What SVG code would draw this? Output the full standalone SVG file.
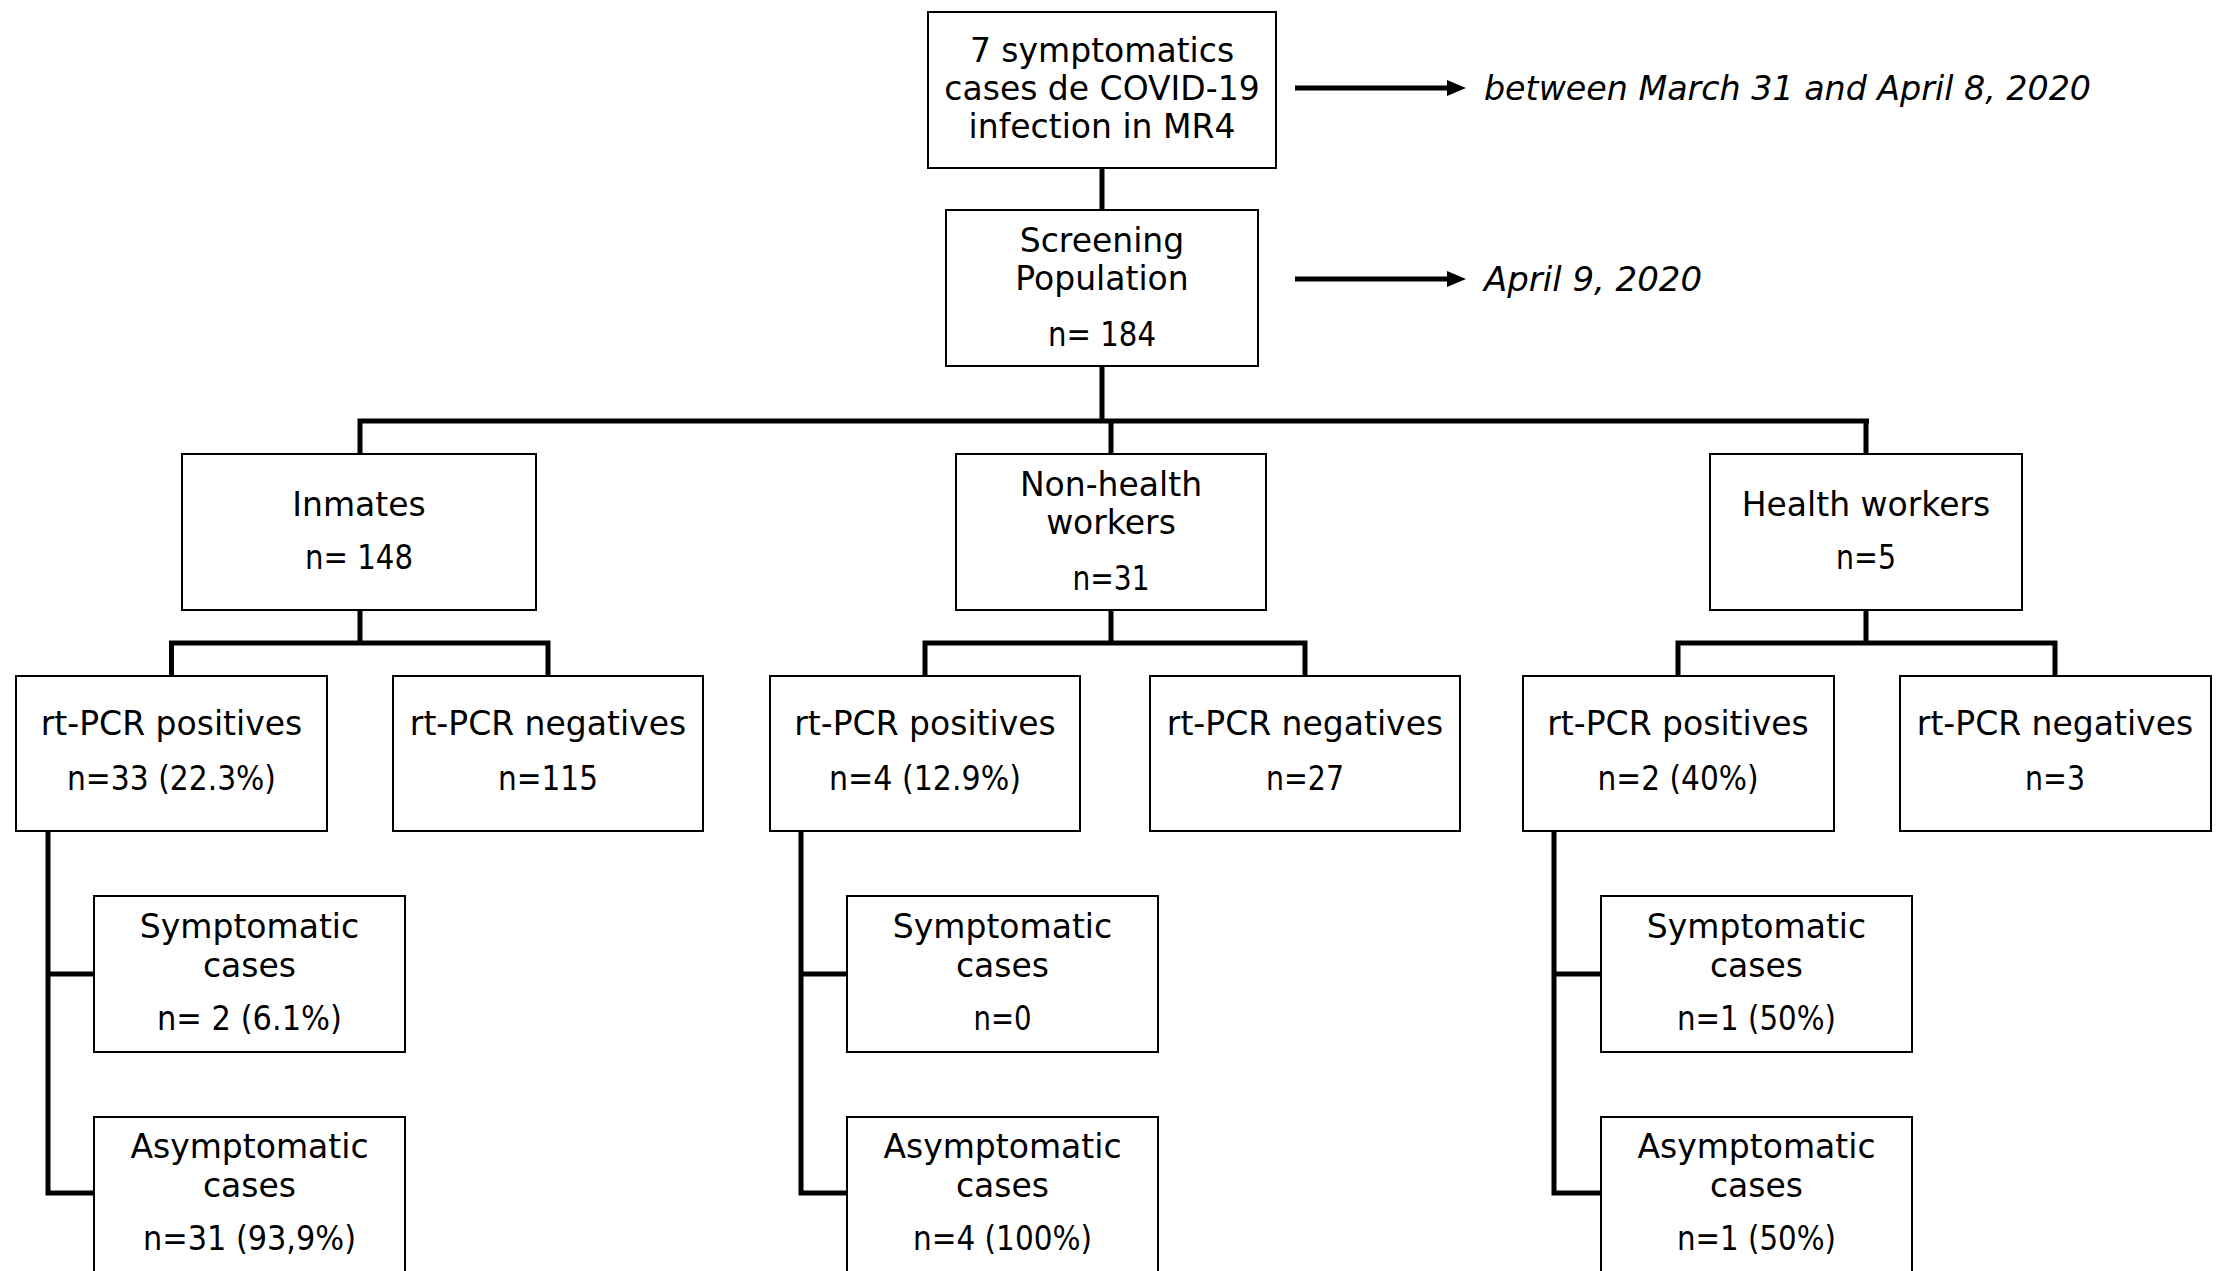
<svg xmlns="http://www.w3.org/2000/svg" width="2231" height="1271" viewBox="0 0 2231 1271">
<style>
.box{fill:#fff;stroke:#000;stroke-width:2}
.t{font-family:"DejaVu Sans",sans-serif;font-size:33px;fill:#000;text-anchor:middle}
.i{font-family:"DejaVu Sans",sans-serif;font-size:33px;font-style:italic;fill:#000}
.c{fill:none;stroke:#000;stroke-width:5}
</style>
<rect width="2231" height="1271" fill="#fff"/>
<g id="connectors">
<path class="c" d="M1102,168 V210"/>
<path class="c" d="M1102,366 V421"/>
<path class="c" d="M357.5,421 H1869 M360,421 V454 M1111,421 V454 M1866,421 V454"/>
<path class="c" d="M360,610 V643 M169,643 H550.5 M171.5,643 V676 M548,643 V676"/>
<path class="c" d="M1111,610 V643 M922.5,643 H1307.5 M925,643 V676 M1305,643 V676"/>
<path class="c" d="M1866,610 V643 M1675.5,643 H2057.5 M1678,643 V676 M2055,643 V676"/>
<path class="c" d="M48,831 V1195.5 M48,974 H94 M48,1193 H94"/>
<path class="c" d="M801,831 V1195.5 M801,974 H847 M801,1193 H847"/>
<path class="c" d="M1554,831 V1195.5 M1554,974 H1601 M1554,1193 H1601"/>
<path class="c" d="M1295,88 H1449"/>
<path d="M1447,80 L1466,88 L1447,96 Z" fill="#000"/>
<path class="c" d="M1295,279 H1449"/>
<path d="M1447,271 L1466,279 L1447,287 Z" fill="#000"/>
</g>
<g id="n-cases">
<rect class="box" x="928" y="12" width="348" height="156"/>
<text class="t" x="1102" y="62">7 symptomatics</text>
<text class="t" x="1102" y="100">cases de COVID-19</text>
<text class="t" x="1102" y="138">infection in MR4</text>
</g>
<g id="n-dates1">
<text class="i" x="1484" y="100" textLength="607" lengthAdjust="spacingAndGlyphs">between March 31 and April 8, 2020</text>
</g>
<g id="n-screening">
<rect class="box" x="946" y="210" width="312" height="156"/>
<text class="t" x="1102" y="252">Screening</text>
<text class="t" x="1102" y="290">Population</text>
<text class="t" x="1102" y="346" textLength="108" lengthAdjust="spacingAndGlyphs">n= 184</text>
</g>
<g id="n-dates2">
<text class="i" x="1484" y="291" textLength="218" lengthAdjust="spacingAndGlyphs">April 9, 2020</text>
</g>
<g id="n-inmates">
<rect class="box" x="182" y="454" width="354" height="156"/>
<text class="t" x="359" y="516">Inmates</text>
<text class="t" x="359" y="569" textLength="108" lengthAdjust="spacingAndGlyphs">n= 148</text>
</g>
<g id="n-nonhealth">
<rect class="box" x="956" y="454" width="310" height="156"/>
<text class="t" x="1111" y="496">Non-health</text>
<text class="t" x="1111" y="534">workers</text>
<text class="t" x="1111" y="590" textLength="77" lengthAdjust="spacingAndGlyphs">n=31</text>
</g>
<g id="n-health">
<rect class="box" x="1710" y="454" width="312" height="156"/>
<text class="t" x="1866" y="516">Health workers</text>
<text class="t" x="1866" y="569" textLength="60" lengthAdjust="spacingAndGlyphs">n=5</text>
</g>
<g id="n-inm-pos">
<rect class="box" x="16" y="676" width="311" height="155"/>
<text class="t" x="171.5" y="735">rt-PCR positives</text>
<text class="t" x="171.5" y="790" textLength="209" lengthAdjust="spacingAndGlyphs">n=33 (22.3%)</text>
</g>
<g id="n-inm-neg">
<rect class="box" x="393" y="676" width="310" height="155"/>
<text class="t" x="548" y="735">rt-PCR negatives</text>
<text class="t" x="548" y="790" textLength="100" lengthAdjust="spacingAndGlyphs">n=115</text>
</g>
<g id="n-nh-pos">
<rect class="box" x="770" y="676" width="310" height="155"/>
<text class="t" x="925" y="735">rt-PCR positives</text>
<text class="t" x="925" y="790" textLength="192" lengthAdjust="spacingAndGlyphs">n=4 (12.9%)</text>
</g>
<g id="n-nh-neg">
<rect class="box" x="1150" y="676" width="310" height="155"/>
<text class="t" x="1305" y="735">rt-PCR negatives</text>
<text class="t" x="1305" y="790" textLength="78" lengthAdjust="spacingAndGlyphs">n=27</text>
</g>
<g id="n-h-pos">
<rect class="box" x="1523" y="676" width="311" height="155"/>
<text class="t" x="1678" y="735">rt-PCR positives</text>
<text class="t" x="1678" y="790" textLength="161" lengthAdjust="spacingAndGlyphs">n=2 (40%)</text>
</g>
<g id="n-h-neg">
<rect class="box" x="1900" y="676" width="311" height="155"/>
<text class="t" x="2055" y="735">rt-PCR negatives</text>
<text class="t" x="2055" y="790" textLength="60" lengthAdjust="spacingAndGlyphs">n=3</text>
</g>
<g id="n-inm-sym">
<rect class="box" x="94" y="896" width="311" height="156"/>
<text class="t" x="249.5" y="938">Symptomatic</text>
<text class="t" x="249.5" y="977">cases</text>
<text class="t" x="249.5" y="1030" textLength="185" lengthAdjust="spacingAndGlyphs">n= 2 (6.1%)</text>
</g>
<g id="n-inm-asym">
<rect class="box" x="94" y="1117" width="311" height="170"/>
<text class="t" x="249.5" y="1158">Asymptomatic</text>
<text class="t" x="249.5" y="1197">cases</text>
<text class="t" x="249.5" y="1250" textLength="213" lengthAdjust="spacingAndGlyphs">n=31 (93,9%)</text>
</g>
<g id="n-nh-sym">
<rect class="box" x="847" y="896" width="311" height="156"/>
<text class="t" x="1002.5" y="938">Symptomatic</text>
<text class="t" x="1002.5" y="977">cases</text>
<text class="t" x="1002.5" y="1030" textLength="58" lengthAdjust="spacingAndGlyphs">n=0</text>
</g>
<g id="n-nh-asym">
<rect class="box" x="847" y="1117" width="311" height="170"/>
<text class="t" x="1002.5" y="1158">Asymptomatic</text>
<text class="t" x="1002.5" y="1197">cases</text>
<text class="t" x="1002.5" y="1250" textLength="179" lengthAdjust="spacingAndGlyphs">n=4 (100%)</text>
</g>
<g id="n-h-sym">
<rect class="box" x="1601" y="896" width="311" height="156"/>
<text class="t" x="1756.5" y="938">Symptomatic</text>
<text class="t" x="1756.5" y="977">cases</text>
<text class="t" x="1756.5" y="1030" textLength="159" lengthAdjust="spacingAndGlyphs">n=1 (50%)</text>
</g>
<g id="n-h-asym">
<rect class="box" x="1601" y="1117" width="311" height="170"/>
<text class="t" x="1756.5" y="1158">Asymptomatic</text>
<text class="t" x="1756.5" y="1197">cases</text>
<text class="t" x="1756.5" y="1250" textLength="159" lengthAdjust="spacingAndGlyphs">n=1 (50%)</text>
</g>
</svg>
